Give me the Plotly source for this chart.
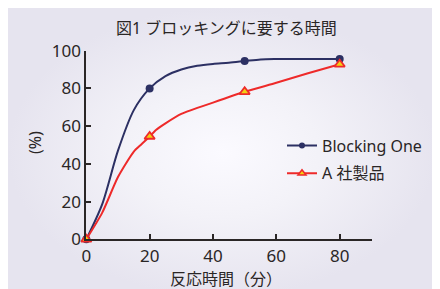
import plotly.graph_objects as go

# ---- data ----
blocking_x = [0, 5, 10, 15, 20, 25, 30, 35, 40, 45, 50, 55, 60, 70, 80]
blocking_y = [0, 18.5, 47, 68.5, 80, 86.5, 90, 92, 93, 93.6, 94.5, 95.4, 95.6, 95.6, 95.6]
blocking_mx = [0, 20, 50, 80]
blocking_my = [0, 80, 94.5, 95.6]

a_x = [0, 5, 10, 15, 17.5, 20, 22, 25, 30, 40, 50, 60, 70, 80]
a_y = [0, 14, 33, 46.5, 50.5, 54.5, 58, 61.5, 66.5, 72.5, 78.2, 83, 88, 92.8]
a_mx = [0, 20, 50, 80]
a_my = [0, 54.5, 78.2, 92.8]

x_ticks = [0, 20, 40, 60, 80]
y_ticks = [0, 20, 40, 60, 80, 100]

title_text = "図1 ブロッキングに要する時間"
xtitle_text = "反応時間（分）"
ytitle_text = "(%)"
names = ["Blocking One", "A 社製品"]

W, H = 440, 289
OFF = 8  # page body margin
BLUE = "#2c3063"
RED = "#ee2a2a"
YEL = "#f3cf12"
TXT = "#2a2626"
FONT = "Noto Sans, Noto Sans CJK JP, sans-serif"


def px(x):
    return (x - OFF) / W


def py(y):
    return 1 - (y - OFF) / H


fig = go.Figure()

# background panel with radial gradient (on full-figure axes x/y)
bx0, by0, bx1, by1 = 0, 0, 436 - OFF, H
fig.add_trace(go.Scatter(
    x=[bx0, bx1, bx1, bx0, bx0], y=[by0, by0, by1, by1, by0],
    mode="lines", line=dict(width=0), fill="toself",
    fillgradient=dict(type="radial",
                      colorscale=[[0, "#fbfaff"], [0.45, "#f3f2f8"], [1, "#e6e4ef"]]),
    hoverinfo="skip", showlegend=False, xaxis="x", yaxis="y"))

# data lines
fig.add_trace(go.Scatter(x=blocking_x, y=blocking_y, mode="lines",
                         line=dict(color=BLUE, width=2, shape="spline", smoothing=0.8),
                         showlegend=False, cliponaxis=False, xaxis="x2", yaxis="y2"))
fig.add_trace(go.Scatter(x=blocking_mx, y=blocking_my, mode="markers",
                         marker=dict(color=BLUE, size=8, symbol="circle"),
                         showlegend=False, cliponaxis=False, xaxis="x2", yaxis="y2"))
fig.add_trace(go.Scatter(x=a_x, y=a_y, mode="lines",
                         line=dict(color=RED, width=2, shape="spline", smoothing=0.6),
                         showlegend=False, cliponaxis=False, xaxis="x2", yaxis="y2"))
fig.add_trace(go.Scatter(x=a_mx, y=a_my, mode="markers",
                         marker=dict(color=YEL, size=9, symbol="triangle-up",
                                     line=dict(color=RED, width=1.8)),
                         showlegend=False, cliponaxis=False, xaxis="x2", yaxis="y2"))

# legend entries
fig.add_trace(go.Scatter(x=[None], y=[None], mode="lines+markers", name=names[0],
                         legendgroup="g1",
                         line=dict(color=BLUE, width=2),
                         marker=dict(color=BLUE, size=6), xaxis="x2", yaxis="y2"))
fig.add_trace(go.Scatter(x=[None], y=[None], mode="lines+markers", name=names[1],
                         legendgroup="g2",
                         line=dict(color=RED, width=2),
                         marker=dict(color=YEL, size=7, symbol="triangle-up",
                                     line=dict(color=RED, width=1.5)),
                         xaxis="x2", yaxis="y2"))

axis_common = dict(showgrid=False, zeroline=False, showline=True, linecolor=TXT, linewidth=2,
                   ticks="inside", ticklen=5, tickwidth=2, tickcolor=TXT,
                   tickfont=dict(family=FONT, size=17, color=TXT), fixedrange=True)

fig.update_layout(
    width=W, height=H,
    margin=dict(l=0, r=0, t=0, b=0, autoexpand=False),
    paper_bgcolor="white", plot_bgcolor="rgba(0,0,0,0)",
    showlegend=True,
    legend=dict(x=px(282), y=py(128.5), xanchor="left", yanchor="top",
                bgcolor="rgba(0,0,0,0)", font=dict(family=FONT, size=16, color=TXT),
                tracegroupgap=4),
    xaxis=dict(domain=[0, 1], range=[0, W], visible=False, fixedrange=True),
    yaxis=dict(domain=[0, 1], range=[H, 0], visible=False, fixedrange=True),
    xaxis2=dict(domain=[px(86.3), px(372.3)], range=[0, 90.3], anchor="y2",
                tickvals=x_ticks, ticktext=[str(v) for v in x_ticks], **axis_common),
    yaxis2=dict(domain=[py(239.3), py(50.7)], range=[0, 100], anchor="x2",
                tickvals=y_ticks, ticktext=[str(v) for v in y_ticks], **axis_common),
    annotations=[
        dict(text=title_text, x=px(226), y=py(28), xref="paper", yref="paper",
             xanchor="center", yanchor="middle",
             showarrow=False, font=dict(family=FONT, size=16, color=TXT)),
        dict(text=xtitle_text, x=px(226), y=py(279), xref="paper", yref="paper",
             xanchor="center", yanchor="middle",
             showarrow=False, font=dict(family=FONT, size=16, color=TXT)),
        dict(text=ytitle_text, x=px(35), y=py(143), xref="paper", yref="paper",
             xanchor="center", yanchor="middle",
             showarrow=False, textangle=-90, font=dict(family=FONT, size=16, color=TXT)),
    ],
)

fig.write_html("out.html")
